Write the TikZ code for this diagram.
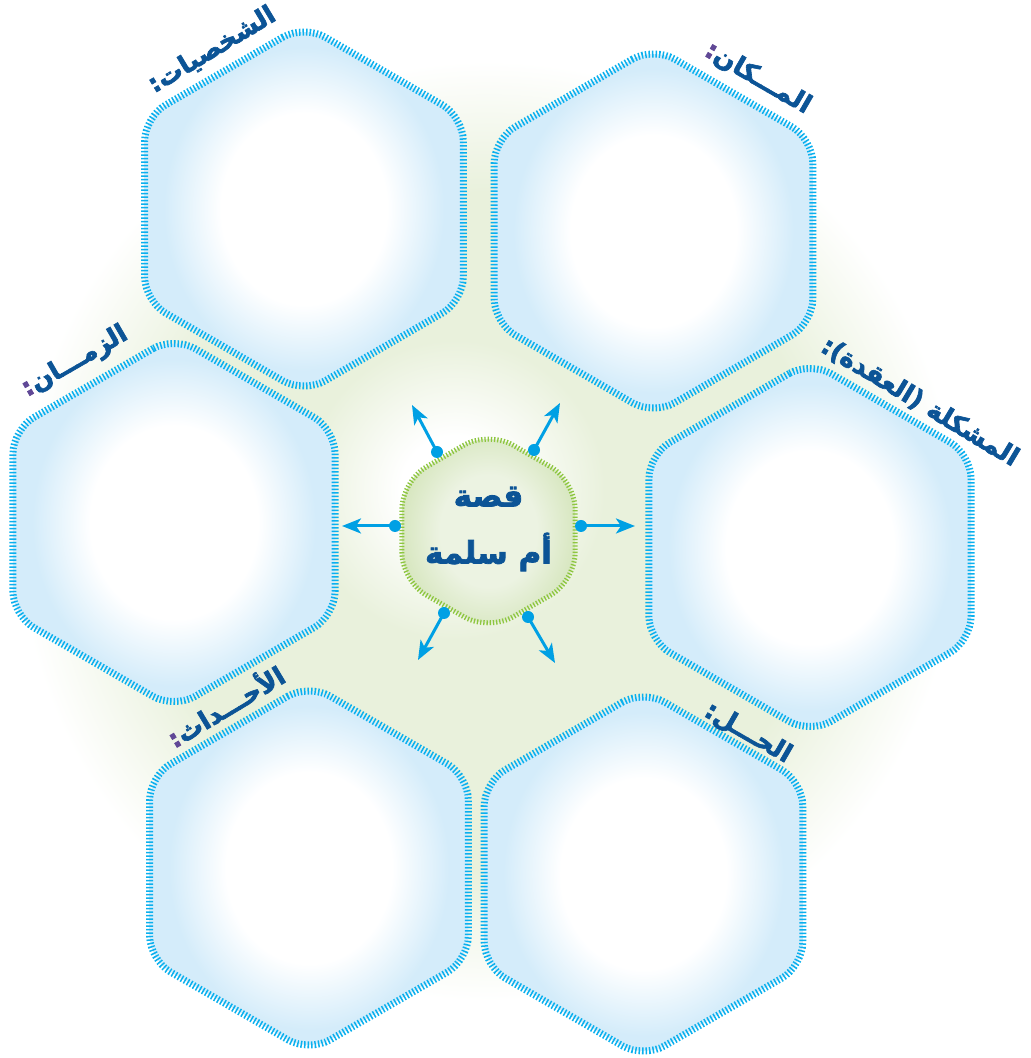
\documentclass[tikz,border=0pt]{standalone}
\usepackage{fontspec}
\usetikzlibrary{calc,arrows.meta}
\TeXXeTstate=1
\newfontfamily\arabicfont[Script=Arabic,BoldFont={DejaVu Sans Bold},BoldFeatures={FakeBold=2.5}]{DejaVu Sans}
\definecolor{hexblue}{RGB}{212,236,250}
\definecolor{tickblue}{RGB}{10,176,238}
\definecolor{pgreen}{RGB}{233,241,220}
\definecolor{cgreenA}{RGB}{236,243,226}
\definecolor{cgreenB}{RGB}{216,231,193}
\definecolor{tickgreen}{RGB}{141,198,63}
\definecolor{txtblue}{RGB}{12,84,150}
\definecolor{colonpurple}{RGB}{96,72,150}
\definecolor{arrowblue}{RGB}{0,160,228}
\pgfdeclareradialshading{hexshade}{\pgfpoint{0bp}{0bp}}{color(0bp)=(white); color(13bp)=(white); color(22bp)=(hexblue); color(40bp)=(hexblue)}
\pgfdeclareradialshading{bgshade}{\pgfpoint{0bp}{0bp}}{color(0bp)=(pgreen); color(18bp)=(pgreen); color(25bp)=(white); color(40bp)=(white)}
\pgfdeclareradialshading{glowshade}{\pgfpoint{0bp}{0bp}}{color(0bp)=(white); color(9bp)=(white); color(25bp)=(pgreen); color(40bp)=(pgreen)}
\pgfdeclareradialshading{centershade}{\pgfpoint{0bp}{0bp}}{color(0bp)=(cgreenA); color(14bp)=(cgreenA); color(25bp)=(cgreenB); color(40bp)=(cgreenB)}
\newcommand\hexa[3]{%
  \path[#3] ($(#1)+(90:#2)$) -- ($(#1)+(150:#2)$) -- ($(#1)+(210:#2)$) -- ($(#1)+(270:#2)$) -- ($(#1)+(330:#2)$) -- ($(#1)+(30:#2)$) -- cycle;}
\tikzset{
  bighex/.style={draw=tickblue, line width=7pt, dash pattern=on 1.5pt off 2pt, rounded corners=24pt, shade, shading=hexshade},
  centerhex/.style={draw=tickgreen, line width=5pt, dash pattern=on 1.3pt off 1.9pt, rounded corners=28pt, shade, shading=centershade},
  lbl/.style={font=\arabicfont\bfseries\fontsize{25.5}{30}\selectfont, text=txtblue, inner sep=0pt},
  ctext/.style={font=\arabicfont\bfseries\fontsize{31}{57}\selectfont, text=txtblue, inner sep=0pt, align=center},
  dotarrow/.style={draw=arrowblue, line width=3pt, -{Stealth[length=19pt,width=15pt,inset=5pt]}},
  startdot/.style={fill=arrowblue}
}
\begin{document}
\begin{tikzpicture}[x=1pt,y=1pt]
\useasboundingbox (0,0) rectangle (1031,1058);
\fill[white] (0,0) rectangle (1031,1058);
\coordinate (c) at (488.5,527);
\coordinate (tl) at (304,849);
\coordinate (tr) at (653.5,827);
\coordinate (ml) at (174,535.5);
\coordinate (mr) at (810,510.5);
\coordinate (bl) at (309,190);
\coordinate (br) at (643.5,184);
% background
\path[shade, shading=bgshade] (c) circle (470);
\path[shade, shading=glowshade] (455,568) circle (150);
% hexagons
\hexa{tl}{184}{bighex}
\hexa{tr}{184}{bighex}
\hexa{ml}{186}{bighex}
\hexa{mr}{186}{bighex}
\hexa{bl}{184}{bighex}
\hexa{br}{184}{bighex}
\hexa{c}{100}{centerhex}
% arrows
\coordinate (s1) at ($(c)+(-51.5,79)$);
\coordinate (s2) at ($(c)+(45.5,81)$);
\coordinate (s3) at ($(c)+(-93.5,5)$);
\coordinate (s4) at ($(c)+(92.5,5)$);
\coordinate (s5) at ($(c)+(-44.5,-82)$);
\coordinate (s6) at ($(c)+(39.5,-86)$);
\coordinate (e1) at (412,653);
\coordinate (e2) at (560,655);
\coordinate (e3) at (342,532);
\coordinate (e4) at (635,532);
\coordinate (e5) at (418,398);
\coordinate (e6) at (555,395);
\foreach \i in {1,...,6}{
  \draw[dotarrow] (s\i) -- (e\i);
  \fill[startdot] (s\i) circle (6);
}
% labels
\node[lbl, rotate=31] (lchar) at (212,1008) {\beginR الشخصيات:\endR};
\node[lbl, rotate=-30] (lplace) at (758,980) {\textcolor{colonpurple}{:}\beginR المـــكان\endR};
\node[lbl, rotate=-31] (lprob) at (920,656) {\beginR المشكلة (العقدة):\endR};
\node[lbl, rotate=30] (ltime) at (75,696) {\textcolor{colonpurple}{:}\beginR الزمـــان\endR};
\node[lbl, rotate=31] (levent) at (225,353) {\textcolor{colonpurple}{:}\beginR الأحـــداث\endR};
\node[lbl, rotate=-30] (lsol) at (748,325) {\beginR الحـــل:\endR};
% center text
\node[ctext] (ct) at (488.5,529) {\beginR قصة\endR\\\beginR أم سلمة\endR};
\end{tikzpicture}
\end{document}
